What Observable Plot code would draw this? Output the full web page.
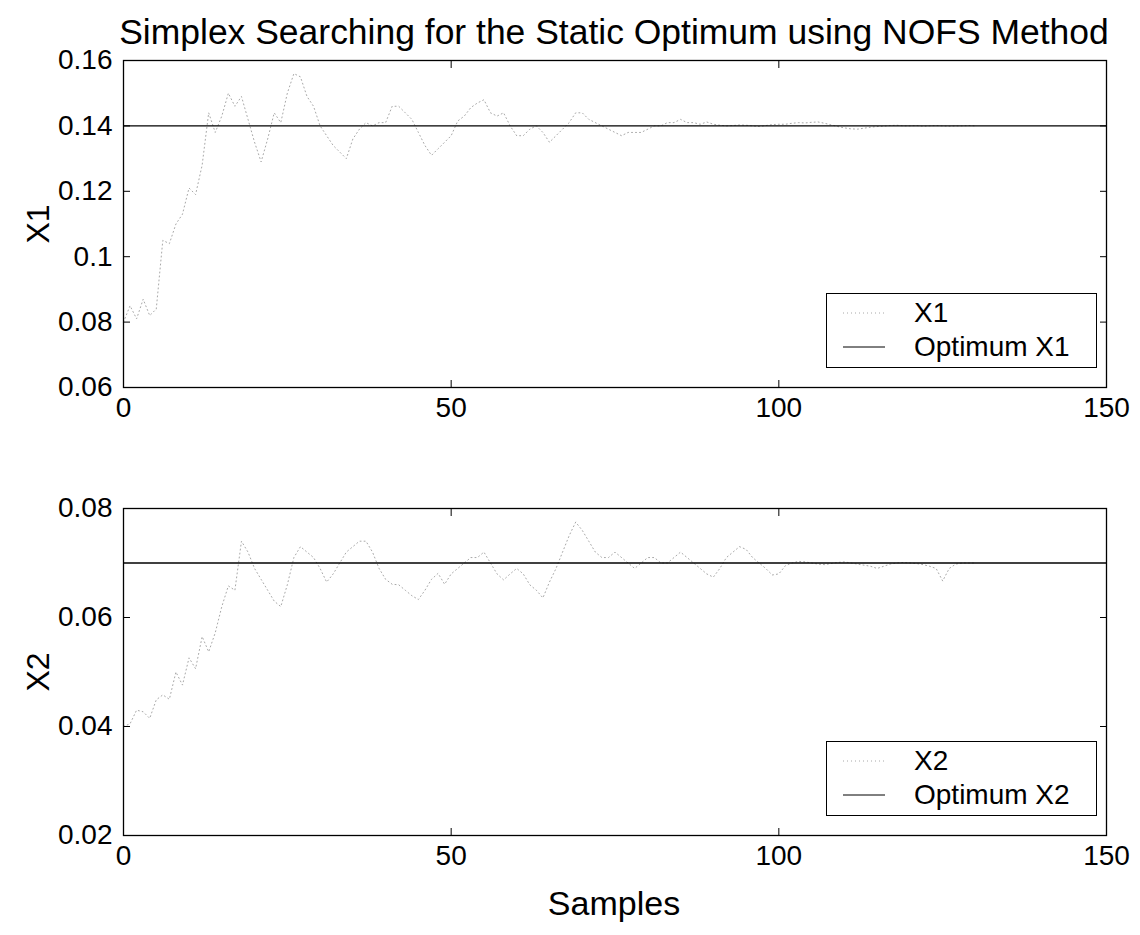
<!DOCTYPE html>
<html>
<head>
<meta charset="utf-8">
<script src="https://cdn.jsdelivr.net/npm/d3@7"></script>
<script src="https://cdn.jsdelivr.net/npm/@observablehq/plot@0.6"></script>
<style>
  body { margin: 0; background: #fff; font-family: "Liberation Sans", Arial, sans-serif; }
  #fig { position: relative; width: 1140px; height: 935px; overflow: hidden; background: #fff; }
  #fig > .panel { position: absolute; left: 0; z-index: 1; }
  .title { position: absolute; left: 614px; top: 32px; transform: translate(-50%, -50%); font-size: 30px; color: #000; white-space: nowrap; z-index: 3; }
  .ylab { position: absolute; font-size: 32px; transform: translate(-50%, -50%) rotate(-90deg); z-index: 3; }
  .xlab { position: absolute; left: 614px; top: 903px; font-size: 34px; transform: translate(-50%, -50%); z-index: 3; }
  .legend { position: absolute; border: 1px solid #000; background: #fff; font-size: 28px; z-index: 3; }
  .legend .row { position: absolute; left: 0; display: flex; align-items: center; }
  .legend svg { margin-left: 16px; margin-right: 29px; }
</style>
</head>
<body>
<div id="fig"></div>
<script>
// Simplex search trajectory of the two decision variables, one value per sample
const x1Values = [
  0.080, 0.085, 0.081, 0.087, 0.082, 0.084, 0.105, 0.104, 0.110, 0.113,
  0.121, 0.119, 0.128, 0.144, 0.138, 0.143, 0.150, 0.146, 0.149, 0.142,
  0.135, 0.129, 0.136, 0.144, 0.141, 0.150, 0.156, 0.155, 0.149, 0.146,
  0.140, 0.137, 0.134, 0.132, 0.130, 0.136, 0.139, 0.141, 0.140, 0.141,
  0.141, 0.146, 0.146, 0.144, 0.142, 0.138, 0.134, 0.131, 0.133, 0.135,
  0.137, 0.1415, 0.143, 0.1456, 0.147, 0.148, 0.144, 0.143, 0.144, 0.140,
  0.137, 0.137, 0.139, 0.140, 0.138, 0.135, 0.137, 0.139, 0.141, 0.144,
  0.144, 0.142, 0.141, 0.140, 0.139, 0.138, 0.137, 0.138, 0.138, 0.138,
  0.139, 0.140, 0.140, 0.141, 0.141, 0.142, 0.141, 0.141, 0.1405, 0.1412,
  0.1405, 0.1402, 0.1400, 0.1401, 0.1403, 0.1402, 0.1400, 0.1398, 0.1401, 0.1404,
  0.1405, 0.1405, 0.1408, 0.1410, 0.1409, 0.1411, 0.1412, 0.1408, 0.1403, 0.1398,
  0.1394, 0.1391, 0.1390, 0.1393, 0.1396, 0.1398, 0.1399, 0.1401, 0.1402, 0.1400,
  0.1400, 0.1401, 0.1399, 0.1400, 0.1401, 0.1400, 0.1399, 0.1400, 0.1400, 0.1401,
  0.1400
];
const x2Values = [
  0.0400, 0.0405, 0.0430, 0.0427, 0.0415, 0.0449, 0.0458, 0.0450, 0.0500, 0.0476,
  0.0526, 0.0506, 0.0565, 0.0537, 0.0572, 0.0620, 0.0658, 0.0650, 0.0740, 0.0720,
  0.0690, 0.0670, 0.0650, 0.0630, 0.0620, 0.0660, 0.0710, 0.0730, 0.0720, 0.0710,
  0.0690, 0.0665, 0.0680, 0.0700, 0.0720, 0.0730, 0.0740, 0.0740, 0.0720, 0.0690,
  0.0670, 0.0661, 0.0660, 0.0650, 0.0640, 0.0633, 0.0650, 0.0670, 0.0681, 0.0661,
  0.0680, 0.0690, 0.0700, 0.0710, 0.0710, 0.0720, 0.0700, 0.0680, 0.0669, 0.0680,
  0.0690, 0.0680, 0.0660, 0.0650, 0.0636, 0.0665, 0.0690, 0.0720, 0.0750, 0.0775,
  0.0760, 0.0740, 0.0720, 0.0710, 0.0710, 0.0720, 0.0710, 0.0700, 0.0690, 0.0700,
  0.0710, 0.0710, 0.0700, 0.0700, 0.0710, 0.0720, 0.0710, 0.0700, 0.0690, 0.0680,
  0.0674, 0.0690, 0.0710, 0.0720, 0.0730, 0.0725, 0.0710, 0.0700, 0.0690, 0.0678,
  0.0680, 0.0695, 0.0700, 0.0703, 0.0702, 0.0700, 0.0698, 0.0697, 0.0699, 0.0701,
  0.0702, 0.0700, 0.0698, 0.0696, 0.0694, 0.0690, 0.0694, 0.0698, 0.0700, 0.0701,
  0.0700, 0.0699, 0.0697, 0.0694, 0.0690, 0.0667, 0.0690, 0.0698, 0.0700, 0.0700,
  0.0700
];
const optimumX1 = 0.14;
const optimumX2 = 0.07;
const sampleTicks = [0, 50, 100, 150];
const x1Ticks = [0.06, 0.08, 0.1, 0.12, 0.14, 0.16];
const x2Ticks = [0.02, 0.04, 0.06, 0.08];
const titleText = "Simplex Searching for the Static Optimum using NOFS Method";
const panels = [
  {name: "X1", values: x1Values, optimum: optimumX1, domain: [0.06, 0.16], ticks: x1Ticks, top: 0, mt: 60, mb: 73},
  {name: "X2", values: x2Values, optimum: optimumX2, domain: [0.02, 0.08], ticks: x2Ticks, top: 460, mt: 48, mb: 99}
];

const fig = document.getElementById("fig");
const W = 1140, ML = 123, MR = 34;
const font = "\"Liberation Sans\", Arial, sans-serif";

panels.forEach((p) => {
  const rows = p.values.map((v, i) => ({sample: i, value: v}));
  const inner = 327;
  const chart = Plot.plot({
    width: W,
    height: p.mt + inner + p.mb,
    marginTop: p.mt, marginBottom: p.mb, marginLeft: ML, marginRight: MR,
    style: {fontFamily: font, fontSize: "28px", color: "#000", background: "transparent"},
    x: {domain: [0, 150], label: null},
    y: {domain: p.domain, label: null},
    marks: [
      Plot.line(rows, {x: "sample", y: "value", stroke: "#a8a8a8", strokeWidth: 1, strokeDasharray: "1,3"}),
      Plot.ruleY([p.optimum], {stroke: "#000", strokeWidth: 1.3}),
      Plot.axisX({ticks: sampleTicks, tickSize: -7, tickPadding: 17, tickFormat: (d) => String(d), fontSize: 28}),
      Plot.axisX({anchor: "top", ticks: sampleTicks, tickSize: -7, tickFormat: () => ""}),
      Plot.axisY({ticks: p.ticks, tickSize: -7, tickPadding: 18, tickFormat: (d) => String(d), fontSize: 28}),
      Plot.axisY({anchor: "right", ticks: p.ticks, tickSize: -7, tickFormat: () => ""}),
      Plot.frame({stroke: "#000", strokeWidth: 1.3})
    ]
  });
  chart.classList.add("panel");
  chart.style.top = p.top + "px";
  fig.appendChild(chart);

  // y-axis title
  const yl = document.createElement("div");
  yl.className = "ylab";
  yl.textContent = p.name;
  yl.style.left = "38px";
  yl.style.top = (p.top + p.mt + inner / 2) + "px";
  fig.appendChild(yl);

  // legend box in the lower right corner of the axes
  const lg = document.createElement("div");
  lg.className = "legend";
  const boxTop = p.top + p.mt + inner - 20 - 74;
  lg.style.left = "826px"; lg.style.top = boxTop + "px";
  lg.style.width = "269px"; lg.style.height = "73px";
  [
    {label: p.name, dash: "1,3", color: "#a8a8a8"},
    {label: "Optimum " + p.name, dash: null, color: "#000"}
  ].forEach((e, k) => {
    const row = document.createElement("div");
    row.className = "row";
    row.style.top = (3 + k * 34) + "px";
    row.style.height = "32px";
    row.innerHTML = `<svg width="42" height="10"><line x1="0" x2="42" y1="5" y2="5" stroke="${e.color}" stroke-width="1"${e.dash ? ` stroke-dasharray="${e.dash}"` : ""}/></svg><span>${e.label}</span>`;
    lg.appendChild(row);
  });
  fig.appendChild(lg);
});

// overall title, sized to span the axes width
const title = document.createElement("div");
title.className = "title";
title.textContent = titleText;
fig.appendChild(title);
const tw = title.getBoundingClientRect().width;
title.style.fontSize = (30 * 990 / tw).toFixed(2) + "px";

const xl = document.createElement("div");
xl.className = "xlab";
xl.textContent = "Samples";
fig.appendChild(xl);
</script>
</body>
</html>
